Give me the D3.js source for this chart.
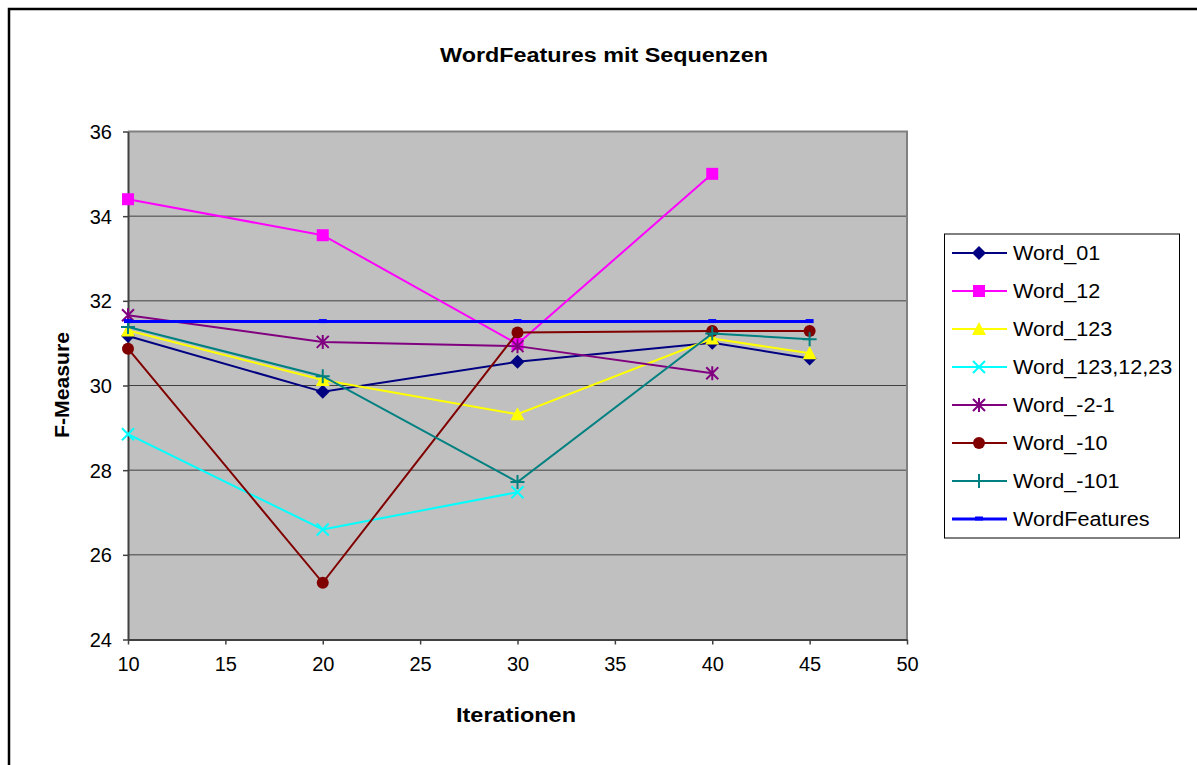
<!DOCTYPE html>
<html>
<head>
<meta charset="utf-8">
<script src="https://cdn.jsdelivr.net/npm/d3@7"></script>
<style>
  html, body { margin: 0; padding: 0; background: #fff; }
  svg { display: block; }
  text { font-family: "Liberation Sans", Arial, sans-serif; fill: #000; }
</style>
</head>
<body>
<svg id="chart" width="1197" height="765"></svg>
<script>
// Iteration counts on the x axis
const iterations = [10, 20, 30, 40, 45];

// F-Measure per feature set (null = not measured)
const word01      = [31.17, 29.85, 30.56, 31.01, 30.64];
const word12      = [34.40, 33.55, 30.98, 35.00, null];
const word123     = [31.30, 30.13, 29.32, 31.11, 30.76];
const word1231223 = [28.85, 26.60, 27.48, null, null];
const wordM2M1    = [31.66, 31.03, 30.93, 30.29, null];
const wordM10     = [30.87, 25.34, 31.25, 31.29, 31.29];
const wordM101    = [31.38, 30.22, 27.72, 31.23, 31.09];
const wordFeatures = [31.51, 31.51, 31.51, 31.51, 31.51];

const seriesNames  = ["Word_01", "Word_12", "Word_123", "Word_123,12,23", "Word_-2-1", "Word_-10", "Word_-101", "WordFeatures"];
const seriesValues = [word01, word12, word123, word1231223, wordM2M1, wordM10, wordM101, wordFeatures];
const seriesColors = ["#000080", "#FF00FF", "#FFFF00", "#00FFFF", "#800080", "#800000", "#008080", "#0000FF"];
const seriesMarkers = ["diamond", "square", "triangle", "x", "asterisk", "circle", "plus", "dash"];

const xTicks = [10, 15, 20, 25, 30, 35, 40, 45, 50];
const yTicks = [24, 26, 28, 30, 32, 34, 36];

const svg = d3.select("#chart");

// widen glyphs slightly, the way the chart's text is set
function stretch(sel, factor) {
  sel.each(function () {
    const w = this.getComputedTextLength();
    d3.select(this).attr("textLength", w * factor).attr("lengthAdjust", "spacingAndGlyphs");
  });
}

// outer chart frame
svg.append("rect")
  .attr("x", 9).attr("y", 9)
  .attr("width", 1200).attr("height", 770)
  .attr("fill", "#fff").attr("stroke", "#000").attr("stroke-width", 2.5);

const plot = { left: 128, right: 907, top: 131.5, bottom: 639.5 };

const x = d3.scaleLinear().domain([10, 50]).range([plot.left, plot.right]);
const y = d3.scaleLinear().domain([24, 36]).range([plot.bottom, plot.top]);

// plot area background
svg.append("rect")
  .attr("x", plot.left).attr("y", plot.top)
  .attr("width", plot.right - plot.left).attr("height", plot.bottom - plot.top)
  .attr("fill", "#C0C0C0");

// horizontal gridlines
svg.append("g")
  .selectAll("line")
  .data(yTicks.filter(d => d > 24 && d < 36))
  .join("line")
  .attr("x1", plot.left).attr("x2", plot.right)
  .attr("y1", d => y(d)).attr("y2", d => y(d))
  .attr("stroke", "#404040").attr("stroke-width", 1);

// top and right border of the plot area
svg.append("path")
  .attr("d", `M${plot.left},${plot.top}H${plot.right}V${plot.bottom}`)
  .attr("fill", "none").attr("stroke", "#808080").attr("stroke-width", 2);

// y axis
const yAxis = svg.append("g")
  .attr("transform", `translate(${plot.left},0)`)
  .call(d3.axisLeft(y).tickValues(yTicks).tickSize(5).tickSizeOuter(0).tickPadding(11));
yAxis.select(".domain").attr("stroke", "#404040").attr("stroke-width", 2);
yAxis.selectAll(".tick line").attr("stroke", "#404040").attr("stroke-width", 1.5);
yAxis.selectAll(".tick text")
  .attr("font-size", 20).attr("font-family", "Liberation Sans, Arial, sans-serif")
  .attr("dy", "0.35em");

// x axis
const xAxis = svg.append("g")
  .attr("transform", `translate(0,${plot.bottom})`)
  .call(d3.axisBottom(x).tickValues(xTicks).tickSize(5).tickSizeOuter(0).tickPadding(12));
xAxis.select(".domain").attr("stroke", "#404040").attr("stroke-width", 2);
xAxis.selectAll(".tick line").attr("stroke", "#404040").attr("stroke-width", 1.5);
xAxis.selectAll(".tick text")
  .attr("font-size", 20).attr("font-family", "Liberation Sans, Arial, sans-serif");

// titles
svg.append("text")
  .attr("x", 604).attr("y", 62)
  .attr("text-anchor", "middle")
  .attr("font-size", 20).attr("font-weight", "bold")
  .attr("textLength", 328).attr("lengthAdjust", "spacingAndGlyphs")
  .text("WordFeatures mit Sequenzen");

svg.append("text")
  .attr("x", 516).attr("y", 722)
  .attr("text-anchor", "middle")
  .attr("font-size", 20).attr("font-weight", "bold")
  .attr("textLength", 120).attr("lengthAdjust", "spacingAndGlyphs")
  .text("Iterationen");

svg.append("text")
  .attr("transform", "translate(69,385) rotate(-90)")
  .attr("text-anchor", "middle")
  .attr("font-size", 20).attr("font-weight", "bold")
  .attr("textLength", 106).attr("lengthAdjust", "spacingAndGlyphs")
  .text("F-Measure");

// marker shapes
function drawMarker(g, kind, color) {
  switch (kind) {
    case "diamond":
      g.append("path").attr("d", "M0,-7L7,0L0,7L-7,0Z").attr("fill", color);
      break;
    case "square":
      g.append("rect").attr("x", -6).attr("y", -6).attr("width", 12).attr("height", 12).attr("fill", color);
      break;
    case "triangle":
      g.append("path").attr("d", "M0,-7L7,6L-7,6Z").attr("fill", color);
      break;
    case "x":
      g.append("path").attr("d", "M-6,-6L6,6M-6,6L6,-6").attr("stroke", color).attr("stroke-width", 2).attr("fill", "none");
      break;
    case "asterisk":
      g.append("path").attr("d", "M-6,-6L6,6M-6,6L6,-6M0,-7L0,7").attr("stroke", color).attr("stroke-width", 2).attr("fill", "none");
      break;
    case "circle":
      g.append("circle").attr("r", 6).attr("fill", color);
      break;
    case "plus":
      g.append("path").attr("d", "M-7,0L7,0M0,-7L0,7").attr("stroke", color).attr("stroke-width", 2).attr("fill", "none");
      break;
    case "dash":
      g.append("rect").attr("x", -4).attr("y", -2.5).attr("width", 8).attr("height", 4).attr("fill", color);
      break;
  }
}

// series lines and markers
const line = d3.line()
  .defined(d => d.v !== null)
  .x(d => x(d.it))
  .y(d => y(d.v));

seriesNames.forEach((name, i) => {
  const pts = iterations.map((it, j) => ({ it, v: seriesValues[i][j] }));
  const g = svg.append("g").attr("class", "series");
  g.append("path")
    .datum(pts)
    .attr("d", line)
    .attr("fill", "none")
    .attr("stroke", seriesColors[i])
    .attr("stroke-width", name === "WordFeatures" ? 3 : 2);
  pts.filter(d => d.v !== null).forEach(d => {
    const mg = g.append("g").attr("transform", `translate(${x(d.it)},${y(d.v)})`);
    drawMarker(mg, seriesMarkers[i], seriesColors[i]);
  });
});

// legend
const legend = svg.append("g");
legend.append("rect")
  .attr("x", 944.5).attr("y", 234)
  .attr("width", 235).attr("height", 304)
  .attr("fill", "#fff").attr("stroke", "#000").attr("stroke-width", 1);

seriesNames.forEach((name, i) => {
  const cy = 253 + i * 38;
  const row = legend.append("g");
  row.append("line")
    .attr("x1", 952).attr("x2", 1007)
    .attr("y1", cy).attr("y2", cy)
    .attr("stroke", seriesColors[i])
    .attr("stroke-width", name === "WordFeatures" ? 3 : 2);
  const mg = row.append("g").attr("transform", `translate(979,${cy})`);
  drawMarker(mg, seriesMarkers[i], seriesColors[i]);
  row.append("text")
    .attr("x", 1013).attr("y", cy + 7)
    .attr("font-size", 20)
    .text(name)
    .call(stretch, 1.08);
});
</script>
</body>
</html>
